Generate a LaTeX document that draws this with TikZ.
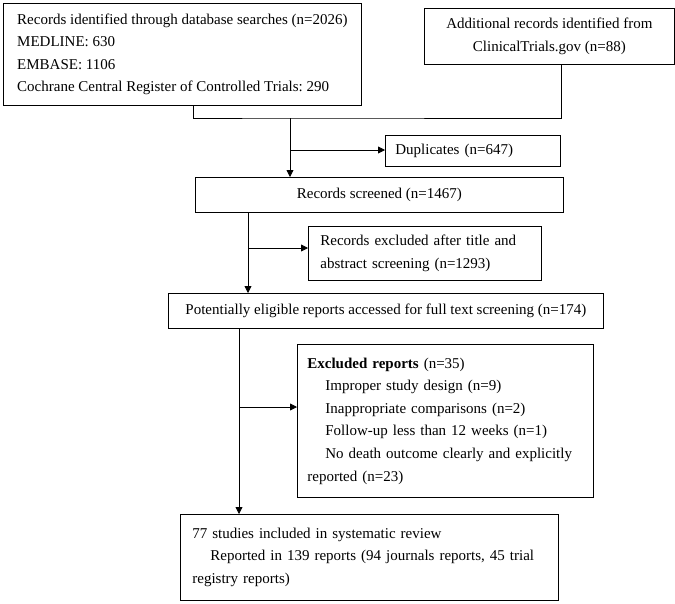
\documentclass[tikz,border=0pt]{standalone}
\usepackage{fontspec}
\setmainfont{Liberation Serif}
\usetikzlibrary{arrows.meta,positioning}
\frenchspacing

\begin{document}
\begin{tikzpicture}[x=1pt,y=-1pt,>={Triangle[length=7pt,width=7pt]},line width=0.8pt,
	box/.style={draw, anchor=north west, font=\fontsize{15}{22.6}\selectfont, inner ysep=2pt},
	lbox/.style={box, align=left, inner xsep=10pt},
	cbox/.style={box, align=center, inner xsep=4pt}]
	\useasboundingbox (0,0) rectangle (675,603);
	\newcommand{\ind}{\hspace*{18pt}}
	
	\node[box, align=left, inner xsep=2pt, minimum width=358pt, minimum height=102pt] (db) at (3,3)
		{Records identified through database searches (n=2026)\\ MEDLINE: 630\\ EMBASE: 1106\\ Cochrane Central Register of Controlled Trials: 290};
	\node[cbox, minimum width=250pt, minimum height=56pt] (extra) at (424,8)
		{Additional records identified from\\ ClinicalTrials.gov (n=88)};
	\node[lbox, minimum width=175pt, minimum height=31pt, text width=155pt] (dup) at (385,135)
		{Duplicates (n=647)};
	\node[cbox, minimum width=368pt, minimum height=35pt] (screened) at (195,177)
		{Records screened (n=1467)};
	\node[lbox, minimum width=233pt, minimum height=54pt, text width=209pt, inner xsep=12pt] (excl) at (308,226)
		{Records excluded after title and\\ abstract screening (n=1293)};
	\node[cbox, minimum width=435pt, minimum height=35pt] (full) at (168,293)
		{Potentially eligible reports accessed for full text screening (n=174)};
	\node[lbox, minimum width=296pt, minimum height=153pt, text width=276pt] (rep) at (297,344)
		{\textbf{Excluded reports} (n=35)\\ \ind Improper study design (n=9)\\ \ind Inappropriate comparisons (n=2)\\ \ind Follow-up less than 12 weeks (n=1)\\ \ind No death outcome clearly and explicitly\\ reported (n=23)};
	\node[lbox, minimum width=378pt, minimum height=86pt, text width=354pt, inner xsep=12pt] (incl) at (180,514)
		{77 studies included in systematic review\\ \ind Reported in 139 reports (94 journals reports, 45 trial\\ registry reports)};
	
	% joins
	\coordinate (j1) at (290,118);
	\coordinate (b1) at (290,150);
	\coordinate (b2) at (248,248);
	\coordinate (b3) at (239,407);
	
	\draw ([xshift=11pt]db.south) |- (j1) -| ([xshift=12pt]extra.south);
	\draw[->] (j1) -- (screened.north -| j1);
	\draw[->] (b1) -- (dup.west |- b1);
	\draw[->] (screened.south -| b2) -- (full.north -| b2);
	\draw[->] (b2) -- (excl.west |- b2);
	\draw[->] (full.south -| b3) -- (incl.north -| b3);
	\draw[->] (b3) -- (rep.west |- b3);
\end{tikzpicture}
\end{document}
